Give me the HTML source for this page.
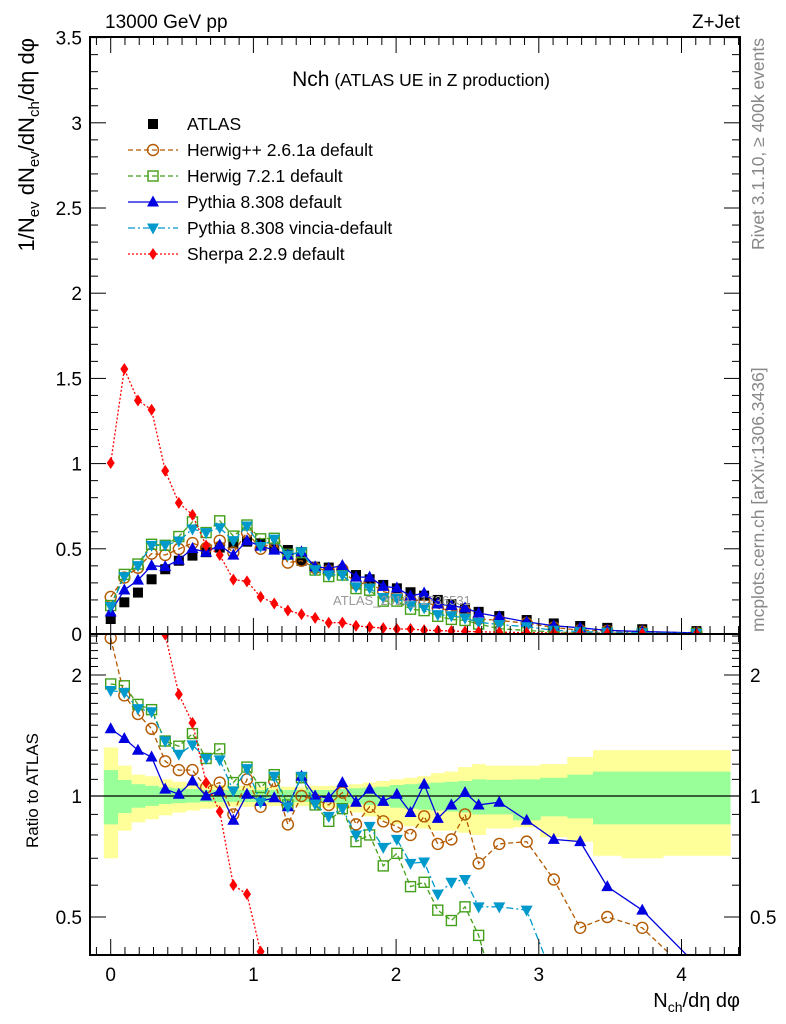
<!DOCTYPE html>
<html><head><meta charset="utf-8">
<style>
html,body{margin:0;padding:0;background:#fff;width:786px;height:1024px;overflow:hidden;}
svg{display:block;font-family:"Liberation Sans",Arial,sans-serif;}
</style></head>
<body>
<svg id="chart" width="786" height="1024" viewBox="0 0 786 1024" xmlns="http://www.w3.org/2000/svg">
<defs>
<clipPath id="clipTop"><rect x="90" y="37" width="650" height="597"/></clipPath>
<clipPath id="clipRat"><rect x="90" y="634" width="650" height="321"/></clipPath>
</defs>
<text x="105" y="28" font-size="19">13000 GeV pp</text>
<text x="740" y="28" font-size="19" text-anchor="end">Z+Jet</text>
<text x="421" y="86" text-anchor="middle"><tspan font-size="21">Nch</tspan><tspan font-size="17.5"> (ATLAS UE in Z production)</tspan></text>
<text transform="translate(34,38) rotate(-90)" text-anchor="end" font-size="22">1/N<tspan font-size="15" dy="5">ev</tspan><tspan dy="-5"> dN</tspan><tspan font-size="15" dy="5">ev</tspan><tspan dy="-5">/dN</tspan><tspan font-size="15" dy="5">ch</tspan><tspan dy="-5">/dη dφ</tspan></text>
<text transform="translate(38,733) rotate(-90)" text-anchor="end" font-size="17">Ratio to ATLAS</text>
<text x="740" y="1007" text-anchor="end" font-size="20">N<tspan font-size="14" dy="5">ch</tspan><tspan dy="-5">/dη dφ</tspan></text>
<text transform="translate(764,38) rotate(-90)" text-anchor="end" font-size="17.5" fill="#888">Rivet 3.1.10, ≥ 400k events</text>
<text transform="translate(764,632) rotate(-90)" text-anchor="start" font-size="17.5" fill="#888">mcplots.cern.ch [arXiv:1306.3436]</text>
</svg>
<script>
// ---- data ----
const binEdges=[-0.048,0.048,0.143,0.239,0.334,0.430,0.525,0.621,0.716,0.812,0.907,1.003,1.098,1.194,1.289,1.385,1.480,1.576,1.671,1.767,1.862,1.958,2.053,2.149,2.244,2.340,2.435,2.531,2.626,2.82,3.01,3.20,3.38,3.58,3.87,4.34];
const atlasValues=[0.088,0.186,0.243,0.321,0.38,0.43,0.46,0.48,0.507,0.532,0.542,0.532,0.497,0.493,0.43,0.395,0.39,0.372,0.346,0.321,0.288,0.268,0.245,0.225,0.20,0.175,0.15,0.13,0.105,0.082,0.062,0.047,0.036,0.028,0.017];
const ratioHerwigPP=[2.47,1.78,1.60,1.47,1.22,1.16,1.16,1.05,1.08,0.90,1.10,0.94,1.09,0.85,1.00,0.98,0.95,1.02,0.85,0.94,0.865,0.84,0.80,0.89,0.76,0.78,0.90,0.68,0.76,0.77,0.62,0.47,0.50,0.47,0.35];
const ratioHerwig7=[1.90,1.88,1.69,1.64,1.37,1.33,1.43,1.24,1.31,1.08,1.18,1.05,1.13,0.95,1.11,0.95,0.865,0.93,0.77,0.80,0.67,0.72,0.595,0.61,0.52,0.49,0.53,0.45,0.30,0.25,0.2,0.15,0.15,0.12,0.1];
const ratioPythia=[1.47,1.39,1.30,1.25,1.04,1.01,1.09,1.00,1.03,0.87,1.01,0.97,0.99,0.94,1.12,1.00,0.99,1.08,0.965,1.04,0.97,1.01,0.91,1.07,0.88,0.95,1.02,0.95,0.965,0.87,0.78,0.77,0.595,0.52,0.38];
const ratioVincia=[1.83,1.81,1.65,1.62,1.37,1.27,1.34,1.24,1.23,1.03,1.17,0.965,1.12,0.94,1.12,0.955,0.89,0.93,0.80,0.84,0.745,0.78,0.68,0.685,0.57,0.61,0.62,0.53,0.53,0.52,0.35,0.3,0.28,0.25,0.2];
const ratioSherpa=[11.4,8.36,5.64,4.1,2.52,1.79,1.52,1.08,0.915,0.60,0.57,0.41,0.36,0.28,0.27,0.24,0.17,0.18,0.14,0.125,0.12,0.11,0.12,0.1,0.1,0.1,0.1,0.1,0.1,0.1,0.1,0.1,0.1,0.1,0.1];
const bandTotHi=[1.32,1.19,1.13,1.12,1.10,1.085,1.08,1.07,1.065,1.06,1.06,1.055,1.055,1.055,1.055,1.06,1.06,1.06,1.07,1.08,1.09,1.10,1.11,1.12,1.14,1.15,1.18,1.20,1.19,1.19,1.20,1.25,1.30,1.30,1.30];
const bandTotLo=[0.70,0.82,0.86,0.875,0.895,0.91,0.92,0.93,0.935,0.94,0.94,0.945,0.945,0.945,0.945,0.94,0.935,0.93,0.91,0.89,0.87,0.85,0.84,0.83,0.82,0.82,0.81,0.80,0.83,0.836,0.79,0.77,0.71,0.70,0.71];
const bandStatHi=[1.16,1.096,1.07,1.06,1.05,1.045,1.04,1.035,1.035,1.035,1.035,1.035,1.035,1.035,1.035,1.035,1.035,1.04,1.045,1.05,1.055,1.065,1.07,1.075,1.08,1.085,1.09,1.10,1.097,1.10,1.11,1.13,1.15,1.15,1.15];
const bandStatLo=[0.85,0.907,0.935,0.945,0.955,0.96,0.963,0.966,0.966,0.966,0.966,0.966,0.966,0.966,0.966,0.966,0.966,0.96,0.955,0.95,0.945,0.935,0.93,0.925,0.92,0.915,0.91,0.90,0.90,0.87,0.89,0.88,0.85,0.85,0.85];
const yTopTicks=[0,0.5,1,1.5,2,2.5,3,3.5];
const yTopTickLabels=["0","0.5","1","1.5","2","2.5","3","3.5"];
const xTicks=[0,1,2,3,4];
const xTickLabels=["0","1","2","3","4"];
const ratioTicks=[0.5,1,2];
const ratioTickLabels=["0.5","1","2"];

// ---- axes ----
const X0=90,X1=740,TOP0=37,TOP1=634,R0=634,R1=955;
const xs=v=>110.7+v*142.7;
const ys=v=>634-v*170.4;
const rs=r=>796-121*Math.log2(r);
const NS="http://www.w3.org/2000/svg";
const svg=document.getElementById('chart');
function mk(tag,attrs,parent){const e=document.createElementNS(NS,tag);for(const k in attrs)e.setAttribute(k,attrs[k]);(parent||svg).appendChild(e);return e;}
const centers=binEdges.slice(0,-1).map((e,i)=>(e+binEdges[i+1])/2);

// ratio bands
const gBand=mk('g',{'clip-path':'url(#clipRat)'});


centers.forEach((c,i)=>{
  const a=xs(binEdges[i]),b=xs(binEdges[i+1]);
  const y1=mk('rect',{x:a,y:rs(bandTotHi[i]),width:b-a+0.5,height:rs(bandTotLo[i])-rs(bandTotHi[i]),fill:'#ffff99'},gBand);
  
  
});
centers.forEach((c,i)=>{
  const a=xs(binEdges[i]),b=xs(binEdges[i+1]);
  const g1=mk('rect',{x:a,y:rs(bandStatHi[i]),width:b-a+0.5,height:rs(bandStatLo[i])-rs(bandStatHi[i]),fill:'#99ff99'},gBand);
  
  
});
const one=mk('line',{x1:X0,x2:X1,y1:rs(1),y2:rs(1),stroke:'#000','stroke-width':1.2});



function marker(type,x,y,color,parent){
  let e;
  if(type==='square') e=mk('rect',{x:x-5,y:y-5,width:10,height:10,fill:color},parent);
  else if(type==='osquare') e=mk('rect',{x:x-5,y:y-5,width:10,height:10,fill:'none',stroke:color,'stroke-width':1.4},parent);
  else if(type==='ocircle') e=mk('circle',{cx:x,cy:y,r:5.5,fill:'none',stroke:color,'stroke-width':1.4},parent);
  else if(type==='tri') e=mk('polygon',{points:`${x},${y-6.5} ${x-6},${y+4.5} ${x+6},${y+4.5}`,fill:color},parent);
  else if(type==='itri') e=mk('polygon',{points:`${x},${y+6.5} ${x-6},${y-4.5} ${x+6},${y-4.5}`,fill:color},parent);
  else if(type==='diamond') e=mk('polygon',{points:`${x},${y-6} ${x-4},${y} ${x},${y+6} ${x+4},${y}`,fill:color},parent);
  return e;
}

const series=[
  {name:'herwigpp',ratio:ratioHerwigPP,color:'#b35900',m:'ocircle',dash:'5,3',label:'Herwig++ 2.6.1a default'},
  {name:'herwig7',ratio:ratioHerwig7,color:'#44a01a',m:'osquare',dash:'5,3',label:'Herwig 7.2.1 default'},
  {name:'pythia',ratio:ratioPythia,color:'#0000e0',m:'tri',dash:'none',label:'Pythia 8.308 default'},
  {name:'vincia',ratio:ratioVincia,color:'#0099cc',m:'itri',dash:'7,3,2,3',label:'Pythia 8.308 vincia-default'},
  {name:'sherpa',ratio:ratioSherpa,color:'#ff0000',m:'diamond',dash:'2,2',label:'Sherpa 2.2.9 default'}
];

// top panel
const gTop=mk('g',{'clip-path':'url(#clipTop)'});


const gAtlas=mk('g',{},gTop);


centers.forEach((c,i)=>{
  const p=marker('square',xs(c),ys(atlasValues[i]),'#000',gAtlas);
  
  
});
series.forEach(s=>{
  const g=mk('g',{},gTop);
  
  
  const vals=s.ratio.map((r,i)=>r*atlasValues[i]);
  const pts=centers.map((c,i)=>xs(c)+','+ys(vals[i])).join(' ');
  const l=mk('polyline',{points:pts,fill:'none',stroke:s.color,'stroke-width':1.3,'stroke-dasharray':s.dash},g);
  
  
  centers.forEach((c,i)=>{
    const p=marker(s.m,xs(c),ys(vals[i]),s.color,g);
    
    
  });
});
const wm=mk('text',{x:333,y:605,'font-size':13,fill:'#999'});
wm.textContent='ATLAS_2019_I1736531';



// ratio panel
const gRat=mk('g',{'clip-path':'url(#clipRat)'});


series.forEach(s=>{
  const g=mk('g',{},gRat);
  
  
  const pts=centers.map((c,i)=>xs(c)+','+rs(s.ratio[i])).join(' ');
  const l=mk('polyline',{points:pts,fill:'none',stroke:s.color,'stroke-width':1.3,'stroke-dasharray':s.dash},g);
  
  
  centers.forEach((c,i)=>{
    const p=marker(s.m,xs(c),rs(s.ratio[i]),s.color,g);
    
    
  });
});

// frames
const f1=mk('rect',{x:X0,y:TOP0,width:X1-X0,height:TOP1-TOP0,fill:'none',stroke:'#000','stroke-width':2});


const f2=mk('rect',{x:X0,y:R0,width:X1-X0,height:R1-R0,fill:'none',stroke:'#000','stroke-width':2});



// ticks
const gT=mk('g',{stroke:'#000','stroke-width':1});


for(let k=0;k<=35;k++){const v=k*0.1;const y=ys(v);const L=(k%5===0)?16:8;
  mk('line',{x1:X0,x2:X0+L,y1:y,y2:y},gT);mk('line',{x1:X1,x2:X1-L,y1:y,y2:y},gT);}
for(let k=-1;k<=44;k++){const v=k*0.1;const x=xs(v);if(x<X0||x>X1)continue;const L=(k%10===0)?16:8;
  mk('line',{x1:x,x2:x,y1:TOP1,y2:TOP1-L},gT);mk('line',{x1:x,x2:x,y1:TOP0,y2:TOP0+L},gT);
  mk('line',{x1:x,x2:x,y1:R1,y2:R1-L},gT);mk('line',{x1:x,x2:x,y1:R0,y2:R0+L},gT);}
[0.5,0.6,0.7,0.8,0.9,1,1.1,1.2,1.3,1.4,1.5,1.6,1.7,1.8,1.9,2,2.1,2.2,2.3,2.4,2.5].forEach(r=>{
  const y=rs(r);const L=(r===0.5||r===1||r===2)?16:8;
  mk('line',{x1:X0,x2:X0+L,y1:y,y2:y},gT);mk('line',{x1:X1,x2:X1-L,y1:y,y2:y},gT);});

// tick labels
yTopTicks.forEach((v,i)=>{
  const t=mk('text',{x:82,y:ys(v)+7,'font-size':19,'text-anchor':'end'});
  t.textContent=yTopTickLabels[i];
  
  
});
xTicks.forEach((v,i)=>{
  const t=mk('text',{x:xs(v),y:981,'font-size':19,'text-anchor':'middle'});
  t.textContent=xTickLabels[i];
  
  
});
ratioTicks.forEach((v,i)=>{
  const t=mk('text',{x:82,y:rs(v)+7,'font-size':19,'text-anchor':'end'});
  t.textContent=ratioTickLabels[i];
  
  
  const t2=mk('text',{x:750,y:rs(v)+7,'font-size':19,'text-anchor':'start'});
  t2.textContent=ratioTickLabels[i];
  
  
});

// legend
const gL=mk('g',{});


const le0=mk('g',{},gL);


marker('square',153,124,'#000',le0);
const lt0=mk('text',{x:187,y:130,'font-size':17.5},le0);lt0.textContent='ATLAS';
series.forEach((s,i)=>{
  const y=150+26*i;
  const g=mk('g',{},gL);
  
  
  mk('line',{x1:128,x2:178,y1:y,y2:y,stroke:s.color,'stroke-width':1.3,'stroke-dasharray':s.dash},g);
  marker(s.m,153,y,s.color,g);
  const t=mk('text',{x:187,y:y+6,'font-size':17.5},g);t.textContent=s.label;
});
</script>
</body></html>
